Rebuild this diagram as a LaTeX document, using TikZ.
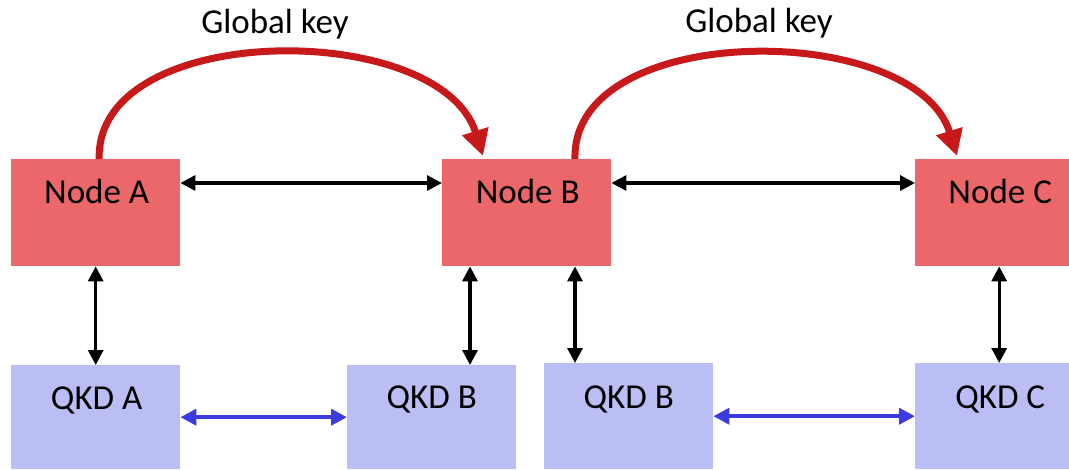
\documentclass[tikz,border=0pt]{standalone}
\usepackage{fontspec}
\setmainfont{Carlito}
\usetikzlibrary{arrows.meta}
\definecolor{nodered}{HTML}{EB6769}
\definecolor{qkdblue}{HTML}{BBBDF5}
\definecolor{keyred}{HTML}{C8191A}
\definecolor{linkblue}{HTML}{3B3BDF}
\begin{document}
\begin{tikzpicture}[x=1pt,y=-1pt,
  nodebox/.style={fill=nodered, inner sep=0pt, anchor=north west, minimum height=107pt},
  qkdbox/.style={fill=qkdblue, inner sep=0pt, anchor=north west},
  lbl/.style={font=\fontsize{35}{42}\selectfont, anchor=base, inner sep=0pt},
  blklink/.style={line width=3.2pt, draw=black,
    {Triangle[length=15pt,width=15pt]}-{Triangle[length=15pt,width=15pt]}},
  bluelink/.style={line width=3.8pt, draw=linkblue,
    {Triangle[length=16pt,width=16pt]}-{Triangle[length=16pt,width=16pt]}},
  keyarrow/.style={line width=7pt, draw=keyred, -{Triangle[length=26pt,width=26pt]}}]
\useasboundingbox (0,0) rectangle (1069,469);

% network nodes
\node[nodebox, minimum width=169pt] (nA) at (11,159) {};
\node[nodebox, minimum width=169pt] (nB) at (442,159) {};
\node[nodebox, minimum width=154pt] (nC) at (915,159) {};

% QKD devices
\node[qkdbox, minimum width=169pt, minimum height=104pt] (qA) at (11,365) {};
\node[qkdbox, minimum width=169pt, minimum height=104pt] (qB1) at (347,365) {};
\node[qkdbox, minimum width=169pt, minimum height=106pt] (qB2) at (544,363) {};
\node[qkdbox, minimum width=154pt, minimum height=106pt] (qC) at (915,363) {};

% box captions
\node[lbl] (tA) at ([xshift=1pt,yshift=-44pt]nA.north) {Node A};
\node[lbl] (tB) at ([xshift=1pt,yshift=-44pt]nB.north) {Node B};
\node[lbl] (tC) at ([xshift=8pt,yshift=-44pt]nC.north) {Node C};
\node[lbl] (tqA) at ([xshift=1pt,yshift=-44pt]qA.north) {QKD A};
\node[lbl] (tqB1) at ([yshift=-43pt]qB1.north) {QKD B};
\node[lbl] (tqB2) at ([yshift=-45pt]qB2.north) {QKD B};
\node[lbl] (tqC) at ([xshift=8pt,yshift=-45pt]qC.north) {QKD C};

% classical links between nodes
\draw[blklink] ([yshift=-24pt]nA.north east) -- ([yshift=-24pt]nB.north west);
\draw[blklink] ([yshift=-24pt]nB.north east) -- ([yshift=-24pt]nC.north west);

% node-to-device links
\coordinate (vA) at (nA.south);
\coordinate (vB1) at ([xshift=28pt]nB.south west);
\coordinate (vB2) at ([xshift=133pt]nB.south west);
\coordinate (vC) at ([xshift=7pt]nC.south);
\draw[blklink] (vA) -- (vA |- qA.north);
\draw[blklink] (vB1) -- (vB1 |- qB1.north);
\draw[blklink] (vB2) -- (vB2 |- qB2.north);
\draw[blklink] (vC) -- (vC |- qC.north);

% quantum links
\draw[bluelink] (qA.east) -- (qB1.west);
\draw[bluelink] (qB2.east) -- (qC.west);

% global key relays
\coordinate (kA) at ([xshift=3.5pt]nA.north);
\coordinate (kB) at ([xshift=41pt,yshift=3pt]nB.north west);
\coordinate (kB2) at ([xshift=133pt]nB.north west);
\coordinate (kC) at ([xshift=42pt,yshift=3pt]nC.north west);
\draw[keyarrow] (kA) .. controls ([xshift=-4pt,yshift=139pt]kA) and ([xshift=-43pt,yshift=137pt]kB) .. (kB);
\draw[keyarrow] (kB2) .. controls ([xshift=-4pt,yshift=139pt]kB2) and ([xshift=-42pt,yshift=136pt]kC) .. (kC);

\node[lbl] (g1) at (275,33) {Global key};
\node[lbl] (g2) at (759,32) {Global key};
\end{tikzpicture}
\end{document}
